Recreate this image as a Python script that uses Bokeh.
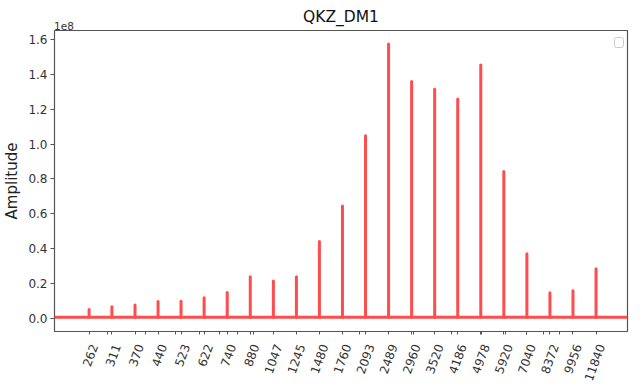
import math
from bokeh.plotting import figure
from bokeh.layouts import column
from bokeh.models import (FixedTicker, PrintfTickFormatter, NumeralTickFormatter,
                          Span, Label, LogAxis, Range1d, Div)
from bokeh.embed import file_html
from bokeh.resources import INLINE

# peak frequencies (Hz), also the x tick positions / labels
freqs = [262, 311, 370, 440, 523, 622, 740, 880, 1047, 1245, 1480, 1760,
         2093, 2489, 2960, 3520, 4186, 4978, 5920, 7040, 8372, 9956, 11840]
# peak amplitudes in units of 1e8
amps = [0.050, 0.065, 0.075, 0.095, 0.097, 0.117, 0.147, 0.237, 0.213, 0.237,
        0.440, 0.645, 1.048, 1.575, 1.360, 1.316, 1.260, 1.455, 0.843, 0.370,
        0.145, 0.157, 0.283]
baseline_level = 0.005
minor_ticks = [300, 400, 500, 600, 700, 800, 900,
               2000, 3000, 4000, 5000, 6000, 7000, 8000, 9000]
y_ticks = [0.0, 0.2, 0.4, 0.6, 0.8, 1.0, 1.2, 1.4, 1.6]

RED = "#ff4d4d"
FONT = "DejaVu Sans"
TICK_FS = "12px"
ANG = math.radians(70)
X0, X1 = 202, 15000
FRAME_W = 573

fig = figure(frame_width=FRAME_W, frame_height=301, x_axis_type="log",
             x_range=(X0, X1), y_range=(-0.077, 1.653),
             output_backend="svg", toolbar_location=None,
             min_border_left=49, min_border_right=3,
             min_border_top=24, min_border_bottom=50)

fig.title.text = "QKZ_DM1"
fig.title.align = "center"
fig.title.text_font = FONT
fig.title.text_font_size = "15.5px"
fig.title.text_font_style = "normal"
fig.title.text_color = "#111111"

fig.grid.visible = False
fig.outline_line_color = "#555555"
fig.outline_line_width = 1.2
fig.outline_line_alpha = 1

# spectrum: baseline + peaks
fig.add_layout(Span(location=baseline_level, dimension="width",
                    line_color=RED, line_width=3))
fig.segment(x0=freqs, y0=[baseline_level] * len(freqs), x1=freqs, y1=amps,
            line_color=RED, line_width=3, line_cap="round")

# main x axis: tick marks only
xa = fig.xaxis[0]
xa.ticker = FixedTicker(ticks=[], minor_ticks=freqs + minor_ticks)
xa.axis_line_color = "#555555"
xa.minor_tick_line_color = "#555555"
xa.minor_tick_in = 0
xa.minor_tick_out = 3

# label axis: shifted a few px right so rotated labels are centred on ticks
px_per_oct = FRAME_W / math.log2(X1 / X0)
shift = 2 ** (-5.0 / px_per_oct)
fig.extra_x_ranges = {"lbl": Range1d(X0 * shift, X1 * shift)}
la = LogAxis(x_range_name="lbl",
             ticker=FixedTicker(ticks=freqs, minor_ticks=[]),
             formatter=NumeralTickFormatter(format="0"),
             major_label_orientation=ANG,
             axis_line_color=None, major_tick_line_color=None,
             minor_tick_line_color=None, major_tick_in=0, major_tick_out=0,
             major_label_standoff=10,
             major_label_text_font=FONT, major_label_text_font_size=TICK_FS,
             major_label_text_color="#333333")
fig.add_layout(la, "below")

ya = fig.yaxis[0]
ya.ticker = FixedTicker(ticks=y_ticks)
ya.formatter = PrintfTickFormatter(format="%.1f")
ya.axis_line_color = "#555555"
ya.major_tick_line_color = "#555555"
ya.minor_tick_line_color = None
ya.major_tick_in = 0
ya.major_tick_out = 4
ya.major_label_standoff = 3
ya.major_label_text_font = FONT
ya.major_label_text_font_size = TICK_FS
ya.major_label_text_color = "#333333"
ya.axis_label = "Amplitude"
ya.axis_label_text_font = FONT
ya.axis_label_text_font_size = "15px"
ya.axis_label_text_font_style = "normal"
ya.axis_label_text_color = "#222222"
ya.axis_label_standoff = 4

# empty legend box (top right)
fig.add_layout(Label(x=X1, y=1.653, text="\u2003", text_font_size="5px",
                     text_align="right", text_baseline="top",
                     x_offset=-4, y_offset=-7,
                     border_line_color="#cccccc", border_line_width=1,
                     background_fill_color="white", padding=2, border_radius=2))

# offset text "1e8" above the top-left corner of the axes (overlaid, no flow space)
offset_text = Div(text="1e8", height=0, styles={
    "position": "absolute", "left": "49px", "top": "16px",
    "z-index": "10", "font-family": FONT, "font-size": "10.5px",
    "line-height": "1", "color": "#333333", "white-space": "nowrap"})

p = column(offset_text, fig)

open("out.html", "w").write(file_html(p, INLINE))
